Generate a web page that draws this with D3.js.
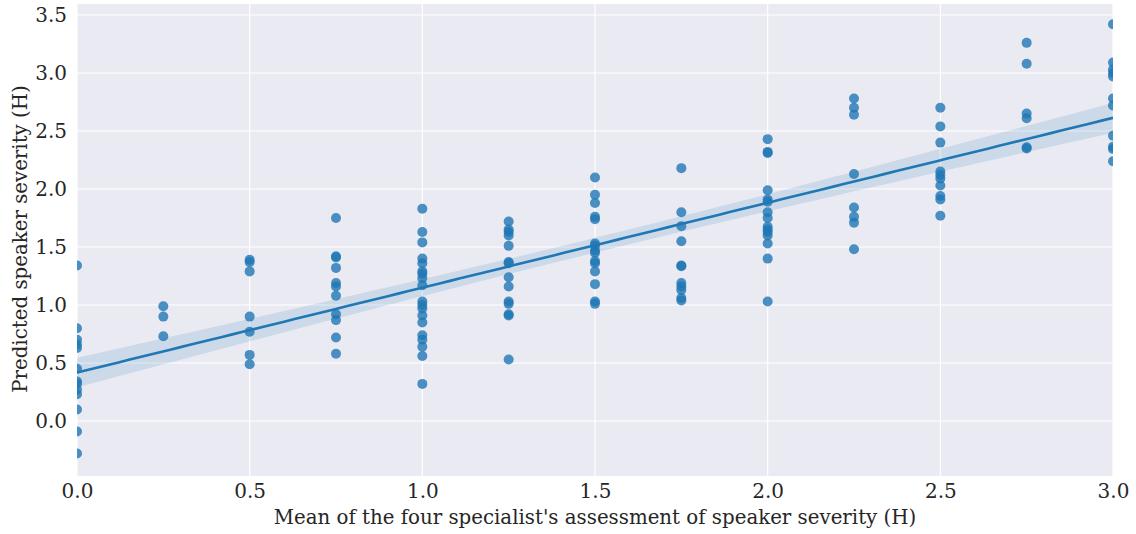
<!DOCTYPE html>
<html>
<head>
<meta charset="utf-8">
<script src="https://cdn.jsdelivr.net/npm/d3@7"></script>
<style>
  body { margin: 0; background: #fff; }
  svg { display: block; font-family: "DejaVu Serif", serif; }
</style>
</head>
<body>
<svg id="chart"></svg>
<script>
// mean specialist score (x) for each column of points
const xLevels = [0, 0.25, 0.5, 0.75, 1.0, 1.25, 1.5, 1.75, 2.0, 2.25, 2.5, 2.75, 3.0];

// predicted severity, one list per x level
const yAt0 = [1.34, 0.80, 0.70, 0.66, 0.63, 0.45, 0.34, 0.32, 0.27, 0.23, 0.10, -0.09, -0.28];
const yAt025 = [0.99, 0.90, 0.73];
const yAt05 = [1.39, 1.37, 1.29, 0.90, 0.77, 0.57, 0.49];
const yAt075 = [1.75, 1.42, 1.41, 1.32, 1.19, 1.16, 1.08, 0.92, 0.87, 0.72, 0.58];
const yAt1 = [1.83, 1.63, 1.54, 1.40, 1.36, 1.29, 1.27, 1.23, 1.17, 1.03, 1.00, 0.97, 0.91, 0.85, 0.74, 0.70, 0.64, 0.56, 0.32];
const yAt125 = [1.72, 1.65, 1.63, 1.60, 1.51, 1.37, 1.36, 1.24, 1.16, 1.03, 1.01, 0.92, 0.91, 0.53];
const yAt15 = [2.10, 1.95, 1.88, 1.76, 1.74, 1.53, 1.51, 1.47, 1.45, 1.38, 1.36, 1.29, 1.18, 1.03, 1.01];
const yAt175 = [2.18, 1.80, 1.68, 1.55, 1.34, 1.335, 1.19, 1.16, 1.13, 1.06, 1.04];
const yAt2 = [2.43, 2.32, 2.31, 1.99, 1.91, 1.89, 1.80, 1.75, 1.675, 1.65, 1.63, 1.60, 1.53, 1.40, 1.03];
const yAt225 = [2.78, 2.70, 2.64, 2.13, 1.84, 1.76, 1.71, 1.48];
const yAt25 = [2.70, 2.54, 2.40, 2.15, 2.12, 2.09, 2.03, 1.94, 1.91, 1.77];
const yAt275 = [3.26, 3.08, 2.65, 2.61, 2.36, 2.35];
const yAt3 = [3.42, 3.09, 3.03, 3.00, 2.97, 2.78, 2.72, 2.46, 2.365, 2.345, 2.24];

const xTicks = [0, 0.5, 1.0, 1.5, 2.0, 2.5, 3.0];
const yTicks = [0, 0.5, 1.0, 1.5, 2.0, 2.5, 3.0, 3.5];

const xLabel = "Mean of the four specialist's assessment of speaker severity (H)";
const yLabel = "Predicted speaker severity (H)";

const columns = [yAt0, yAt025, yAt05, yAt075, yAt1, yAt125, yAt15, yAt175, yAt2, yAt225, yAt25, yAt275, yAt3];
const points = [];
columns.forEach((col, i) => col.forEach(v => points.push({ x: xLevels[i], y: v })));

const W = 1136, H = 534;
const margin = { top: 4, right: 23, bottom: 58, left: 77 };
const iw = W - margin.left - margin.right;
const ih = H - margin.top - margin.bottom;

const svg = d3.select('#chart').attr('width', W).attr('height', H);

const x = d3.scaleLinear().domain([0, 3]).range([0, iw]);
const y = d3.scaleLinear().domain([-0.474, 3.595]).range([ih, 0]);

const g = svg.append('g').attr('transform', `translate(${margin.left},${margin.top})`);

g.append('rect').attr('width', iw).attr('height', ih).attr('fill', '#eaeaf2');

svg.append('defs').append('clipPath').attr('id', 'clip')
  .append('rect').attr('width', iw).attr('height', ih);

// grid
g.append('g').selectAll('line').data(xTicks).join('line')
  .attr('x1', d => x(d)).attr('x2', d => x(d))
  .attr('y1', 0).attr('y2', ih)
  .attr('stroke', '#fff').attr('stroke-width', 1.2);
g.append('g').selectAll('line').data(yTicks).join('line')
  .attr('y1', d => y(d)).attr('y2', d => y(d))
  .attr('x1', 0).attr('x2', iw)
  .attr('stroke', '#fff').attr('stroke-width', 1.2);

// least squares fit + 95% band
const n = points.length;
const mx = d3.mean(points, d => d.x), my = d3.mean(points, d => d.y);
const sxx = d3.sum(points, d => (d.x - mx) ** 2);
const sxy = d3.sum(points, d => (d.x - mx) * (d.y - my));
const slope = sxy / sxx, icpt = my - slope * mx;
const s = Math.sqrt(d3.sum(points, d => (d.y - icpt - slope * d.x) ** 2) / (n - 2));
const grid = d3.range(0, 3.0001, 0.03);
const fit = grid.map(xv => {
  const yh = icpt + slope * xv;
  const se = s * Math.sqrt(1 / n + (xv - mx) ** 2 / sxx);
  return { x: xv, y: yh, lo: yh - 1.98 * se, hi: yh + 1.98 * se };
});

const plot = g.append('g').attr('clip-path', 'url(#clip)');

plot.selectAll('circle').data(points).join('circle')
  .attr('cx', d => x(d.x)).attr('cy', d => y(d.y)).attr('r', 5)
  .attr('fill', '#1f77b4').attr('fill-opacity', 0.8);

plot.append('path').datum(fit)
  .attr('d', d3.area().x(d => x(d.x)).y0(d => y(d.lo)).y1(d => y(d.hi)))
  .attr('fill', '#1f77b4').attr('fill-opacity', 0.15);

plot.append('path').datum(fit)
  .attr('d', d3.line().x(d => x(d.x)).y(d => y(d.y)))
  .attr('fill', 'none').attr('stroke', '#1f77b4').attr('stroke-width', 2.6);

// axes (labels only, no tick marks)
const xAxis = g.append('g').attr('transform', `translate(0,${ih})`)
  .call(d3.axisBottom(x).tickValues(xTicks).tickFormat(d3.format('.1f')).tickSize(0).tickPadding(8));
const yAxis = g.append('g')
  .call(d3.axisLeft(y).tickValues(yTicks).tickFormat(d3.format('.1f')).tickSize(0).tickPadding(10));
[xAxis, yAxis].forEach(a => {
  a.select('.domain').remove();
  a.selectAll('text').attr('font-family', '"DejaVu Serif", serif').attr('font-size', 20).attr('fill', '#262626');
});

svg.append('text')
  .attr('x', margin.left + iw / 2).attr('y', 524)
  .attr('text-anchor', 'middle').attr('font-size', 19.8).attr('fill', '#262626')
  .text(xLabel);

svg.append('text')
  .attr('transform', `translate(27,${margin.top + ih / 2 - 1}) rotate(-90)`)
  .attr('text-anchor', 'middle').attr('font-size', 19.8).attr('fill', '#262626')
  .text(yLabel);
</script>
</body>
</html>
